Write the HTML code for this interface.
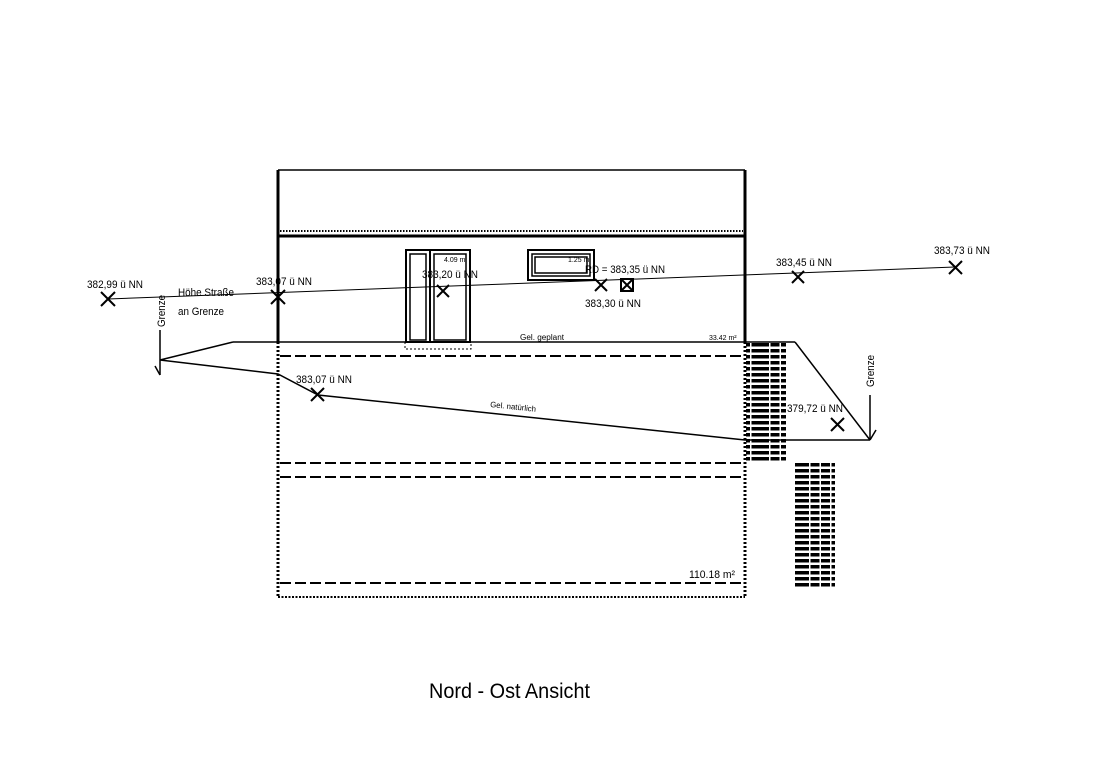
<!DOCTYPE html>
<html><head><meta charset="utf-8"><style>
html,body{margin:0;padding:0;background:#fff}
svg{display:block}
text{font-family:"Liberation Sans",sans-serif;fill:#000}
</style></head><body>
<svg width="1100" height="783" viewBox="0 0 1100 783">
<defs>
<pattern id="h" width="40" height="6" patternUnits="userSpaceOnUse">
<rect x="0" y="1" width="9" height="3.5" fill="#000"/><rect x="10.5" y="1" width="9" height="3.5" fill="#000"/><rect x="21" y="1" width="9" height="3.5" fill="#000"/><rect x="31.5" y="1" width="8.5" height="3.5" fill="#000"/>
</pattern>
</defs>
<g stroke="#000" fill="none">
<line x1="278" y1="170" x2="745" y2="170" stroke-width="1.5"/>
<line x1="278" y1="170" x2="278" y2="342" stroke-width="3"/>
<line x1="745" y1="170" x2="745" y2="342" stroke-width="3"/>
<line x1="280" y1="231" x2="743" y2="231" stroke-width="2" stroke-dasharray="1.5 1.5"/>
<line x1="278" y1="236" x2="745" y2="236" stroke-width="3"/>
<rect x="406" y="250" width="24" height="92" stroke-width="2"/>
<rect x="410" y="254" width="16" height="86" stroke-width="1.5"/>
<rect x="430" y="250" width="40" height="92" stroke-width="2"/>
<rect x="434" y="254" width="32" height="86" stroke-width="1.5"/>
<rect x="405" y="342" width="66" height="7" stroke-width="1" stroke-dasharray="2 2"/>
<rect x="528" y="250" width="66" height="30" stroke-width="2"/>
<rect x="532" y="254" width="58" height="22" stroke-width="1.5"/>
<rect x="535" y="257" width="52" height="16" stroke-width="1.5"/>
<line x1="233" y1="342" x2="795" y2="342" stroke-width="1.5"/>
<line x1="278" y1="342" x2="278" y2="597" stroke-width="3" stroke-dasharray="2 2"/>
<line x1="745" y1="342" x2="745" y2="597" stroke-width="3" stroke-dasharray="2 2"/>
<line x1="280" y1="356" x2="743" y2="356" stroke-width="2" stroke-dasharray="11 4"/>
<line x1="280" y1="463" x2="743" y2="463" stroke-width="2" stroke-dasharray="11 4"/>
<line x1="280" y1="477" x2="743" y2="477" stroke-width="2" stroke-dasharray="11 4"/>
<line x1="280" y1="583" x2="743" y2="583" stroke-width="2" stroke-dasharray="11 4"/>
<line x1="278" y1="597" x2="745" y2="597" stroke-width="2" stroke-dasharray="2 1.5"/>
<line x1="108" y1="299" x2="955" y2="267" stroke-width="1"/>
<polyline points="233,342 160,360 278,374 318,395 745,440 870,440" stroke-width="1.5"/>
<line x1="795" y1="342" x2="870" y2="440" stroke-width="1.5"/>
<line x1="160" y1="330" x2="160" y2="375" stroke-width="1.5"/>
<line x1="160" y1="375" x2="155" y2="366" stroke-width="1.5"/>
<line x1="870" y1="395" x2="870" y2="440" stroke-width="1.5"/>
<line x1="870" y1="440" x2="876" y2="430" stroke-width="1.5"/>
<g stroke-width="2">
<path d="M101,292 l14,14 M115,292 l-14,14"/>
<path d="M271,290 l14,14 M285,290 l-14,14"/>
<path d="M437,285 l12,12 M449,285 l-12,12"/>
<path d="M595,279 l12,12 M607,279 l-12,12"/>
<path d="M792,271 l12,12 M804,271 l-12,12"/>
<path d="M949,261 l13,13 M962,261 l-13,13"/>
<path d="M311,388 l13,13 M324,388 l-13,13"/>
<path d="M831,418 l13,13 M844,418 l-13,13"/>
<rect x="621" y="279" width="12" height="12"/>
<path d="M621,279 l12,12 M633,279 l-12,12"/>
</g>
</g>
<rect x="746" y="343" width="40" height="120" fill="url(#h)"/>
<rect x="795" y="463" width="40" height="126" fill="url(#h)"/>
<g font-size="11">
<text x="87" y="288" textLength="56" lengthAdjust="spacingAndGlyphs">382,99 ü NN</text>
<text x="256" y="285" textLength="56" lengthAdjust="spacingAndGlyphs">383,07 ü NN</text>
<text x="178" y="296" textLength="56" lengthAdjust="spacingAndGlyphs">Höhe Straße</text>
<text x="178" y="315" textLength="46" lengthAdjust="spacingAndGlyphs">an Grenze</text>
<text x="422" y="278" textLength="56" lengthAdjust="spacingAndGlyphs">383,20 ü NN</text>
<text x="585" y="273" textLength="80" lengthAdjust="spacingAndGlyphs">RD = 383,35 ü NN</text>
<text x="585" y="307" textLength="56" lengthAdjust="spacingAndGlyphs">383,30 ü NN</text>
<text x="776" y="266" textLength="56" lengthAdjust="spacingAndGlyphs">383,45 ü NN</text>
<text x="934" y="254" textLength="56" lengthAdjust="spacingAndGlyphs">383,73 ü NN</text>
<text x="296" y="383" textLength="56" lengthAdjust="spacingAndGlyphs">383,07 ü NN</text>
<text x="787" y="412" textLength="56" lengthAdjust="spacingAndGlyphs">379,72 ü NN</text>
<text x="689" y="578" textLength="46" lengthAdjust="spacingAndGlyphs">110.18 m²</text>
<text transform="translate(165,327) rotate(-90)" textLength="32" lengthAdjust="spacingAndGlyphs">Grenze</text>
<text transform="translate(874,387) rotate(-90)" textLength="32" lengthAdjust="spacingAndGlyphs">Grenze</text>
</g>
<g font-size="8">
<text x="520" y="340" textLength="44" lengthAdjust="spacingAndGlyphs">Gel. geplant</text>
<text x="709" y="340" font-size="7">33.42 m²</text>
<text x="444" y="262" font-size="7">4.09 m</text>
<text x="568" y="262" font-size="7">1.25 m</text>
<text transform="translate(490,407) rotate(6)" textLength="46" lengthAdjust="spacingAndGlyphs">Gel. natürlich</text>
</g>
<text x="429" y="698" font-size="21" textLength="161" lengthAdjust="spacingAndGlyphs">Nord - Ost Ansicht</text>
</svg>
</body></html>
